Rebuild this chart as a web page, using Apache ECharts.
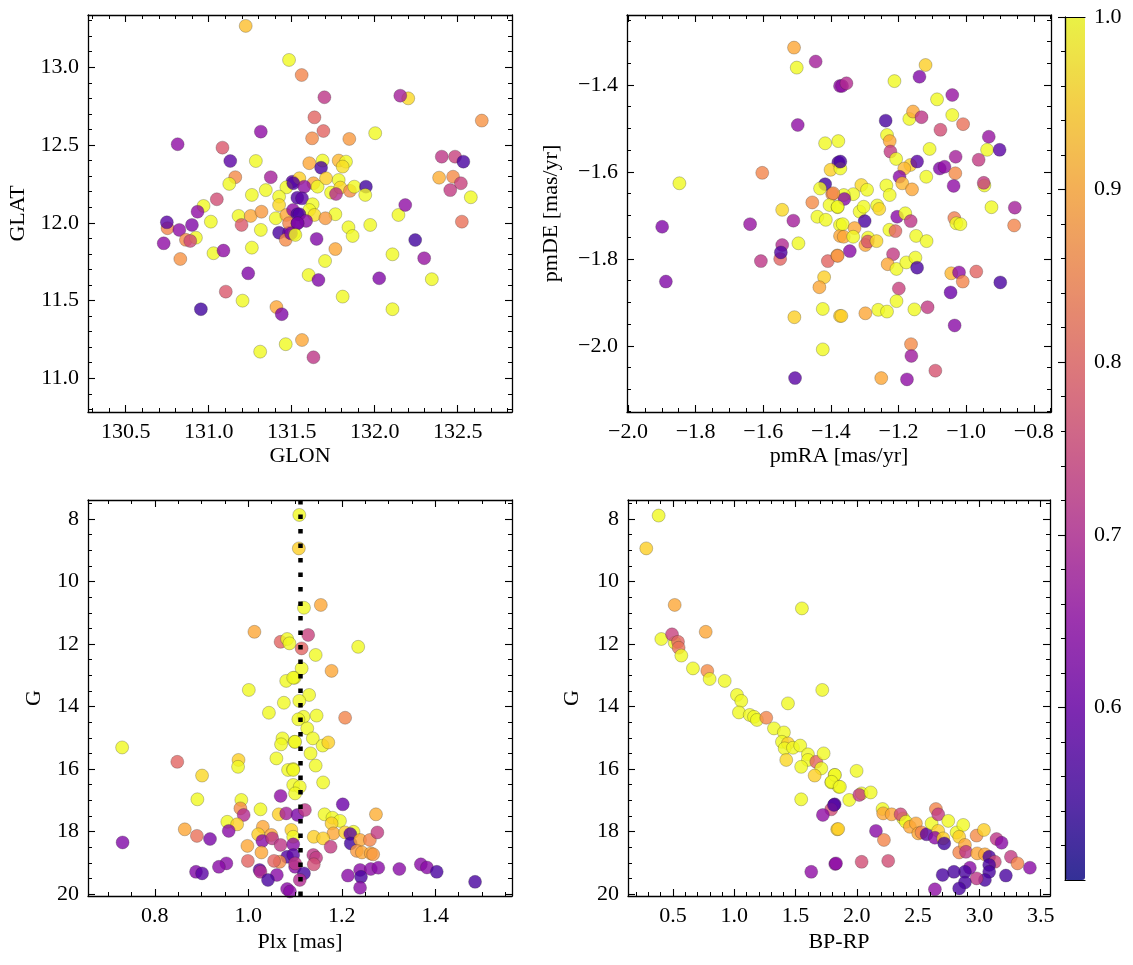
<!DOCTYPE html>
<html>
<head>
<meta charset="utf-8">
<script src="https://cdn.jsdelivr.net/npm/echarts@6/dist/echarts.min.js"></script>
<style>
html,body{margin:0;padding:0;background:#fff;}
#chart{width:1133px;height:965px;}
</style>
</head>
<body>
<div id="chart"></div>
<script>
// ---------- DATA (value triples: x, y, membership probability) ----------
const glonGlat = [
[131.223,13.266,0.93],[131.484,13.047,1.0],[131.56,12.95,0.85],[131.314,12.586,0.65],[130.813,12.505,0.65],
[131.083,12.483,0.78],[131.13,12.397,0.58],[131.284,12.397,1.0],[131.16,12.293,0.86],[131.124,12.25,1.0],
[131.374,12.293,0.68],[131.504,12.264,0.58],[131.468,12.228,1.0],[131.344,12.21,1.0],[131.26,12.179,1.0],
[131.049,12.151,0.76],[131.424,12.168,1.0],[130.969,12.108,1.0],[130.933,12.071,0.65],[131.013,12.007,1.0],
[131.18,12.044,1.0],[131.253,12.044,0.9],[131.318,12.071,0.88],[131.424,12.114,0.96],[131.404,12.029,1.0],
[131.198,11.986,0.78],[131.314,11.954,1.0],[130.752,11.965,0.85],[130.748,12.003,0.58],[130.823,11.954,0.65],
[130.899,11.986,0.63],[130.863,11.89,0.86],[130.923,11.904,1.0],[130.889,11.883,0.75],[130.729,11.868,0.65],
[130.829,11.767,0.87],[131.029,11.804,1.0],[131.089,11.821,0.65],[131.26,11.84,1.0],[131.424,11.936,0.56],
[131.484,11.936,0.6],[131.464,11.89,0.86],[131.514,11.932,1.0],[131.238,11.675,0.63],[131.103,11.557,0.78],
[131.204,11.499,1.0],[130.953,11.444,0.55],[131.408,11.458,0.9],[131.44,11.412,0.63],[131.464,11.219,1.0],
[131.31,11.171,1.0],[131.562,11.246,0.9],[131.468,12.05,0.9],[131.508,12.082,0.65],[131.534,12.055,0.57],
[131.484,11.997,0.85],[131.534,11.997,0.62],[131.534,12.161,0.57],
[131.697,12.807,0.72],[131.637,12.678,0.8],[131.691,12.59,0.8],[131.623,12.543,0.86],[131.847,12.539,0.88],
[132.003,12.576,1.0],[132.202,12.8,0.96],[132.154,12.817,0.68],[132.645,12.657,0.87],[131.606,12.383,0.9],
[131.686,12.4,1.0],[131.677,12.354,0.56],[131.783,12.4,0.92],[131.827,12.393,1.0],[131.807,12.361,0.97],
[131.546,12.286,0.95],[131.51,12.254,0.57],[131.631,12.254,0.9],[131.656,12.232,1.0],[131.707,12.286,0.95],
[131.783,12.275,1.0],[131.576,12.232,0.65],[131.737,12.194,1.0],[131.793,12.226,0.96],[131.767,12.185,0.7],
[131.851,12.205,0.86],[131.877,12.232,1.0],[131.947,12.232,0.55],[131.943,12.179,1.0],[131.562,12.157,0.58],
[131.626,12.119,1.0],[131.606,12.082,1.0],[131.546,12.055,0.57],[131.637,12.05,0.97],[131.763,12.055,1.0],
[131.703,12.029,0.88],[131.587,12.012,0.64],[131.536,11.997,0.62],[131.496,11.932,0.62],[131.522,11.922,1.0],
[131.842,11.971,1.0],[131.867,11.915,1.0],[131.973,11.986,1.0],[131.65,11.896,0.63],[131.763,11.831,0.9],
[131.701,11.754,1.0],[131.602,11.664,1.0],[131.661,11.632,0.63],[131.807,11.525,1.0],[132.027,11.643,0.63],
[132.107,11.797,1.0],[132.143,12.05,1.0],[132.184,12.114,0.65],[132.244,11.889,0.55],[132.298,11.772,0.66],
[132.344,11.637,1.0],[132.107,11.444,1.0],[132.404,12.425,0.72],[132.484,12.425,0.74],[132.534,12.393,0.56],
[132.388,12.29,0.91],[132.472,12.296,0.86],[132.519,12.254,0.74],[132.455,12.21,0.73],[132.579,12.164,1.0],
[132.525,12.007,0.82],[131.631,11.135,0.72]
];

const pmraPmde = [
[-1.509,-1.314,0.9],[-1.501,-1.36,1.0],[-1.445,-1.346,0.68],[-1.373,-1.402,0.65],[-1.498,-1.492,0.65],
[-1.417,-1.534,1.0],[-1.378,-1.529,1.0],[-1.378,-1.578,0.57],[-1.603,-1.602,0.85],[-1.848,-1.626,1.0],
[-1.401,-1.595,0.95],[-1.417,-1.628,0.55],[-1.432,-1.638,1.0],[-1.396,-1.651,0.86],[-1.455,-1.67,0.86],
[-1.404,-1.676,1.0],[-1.38,-1.681,1.0],[-1.544,-1.687,0.96],[-1.44,-1.703,1.0],[-1.415,-1.71,1.0],
[-1.511,-1.712,0.68],[-1.639,-1.72,0.66],[-1.899,-1.726,0.63],[-1.373,-1.722,1.0],[-1.373,-1.747,0.9],
[-1.496,-1.764,1.0],[-1.55,-1.8,0.8],[-1.544,-1.768,0.7],[-1.548,-1.785,0.57],[-1.607,-1.805,0.72],
[-1.409,-1.805,0.8],[-1.381,-1.792,0.9],[-1.888,-1.852,0.63],[-1.42,-1.842,0.95],[-1.434,-1.865,0.9],
[-1.424,-1.915,1.0],[-1.508,-1.934,0.95],[-1.373,-1.931,0.95],[-1.424,-2.008,1.0],[-1.506,-2.074,0.58],
[-1.12,-1.354,0.95],[-1.138,-1.381,0.63],[-1.212,-1.391,1.0],[-1.367,-1.402,0.65],[-1.354,-1.396,0.7],
[-1.086,-1.433,1.0],[-1.041,-1.423,0.66],[-1.041,-1.469,1.0],[-1.009,-1.49,0.82],[-1.168,-1.478,1.0],
[-1.157,-1.461,0.9],[-1.132,-1.474,0.72],[-1.238,-1.482,0.56],[-1.076,-1.503,0.76],[-0.933,-1.519,0.66],
[-0.938,-1.549,1.0],[-0.901,-1.549,0.58],[-1.234,-1.515,1.0],[-1.226,-1.529,0.9],[-1.224,-1.553,0.73],
[-1.207,-1.57,1.0],[-1.108,-1.547,1.0],[-1.031,-1.565,0.68],[-0.963,-1.572,0.73],[-1.372,-1.592,1.0],
[-1.372,-1.576,0.56],[-1.165,-1.584,0.95],[-1.145,-1.576,0.58],[-1.183,-1.592,0.92],[-1.078,-1.592,0.63],
[-1.064,-1.588,0.65],[-1.032,-1.603,0.86],[-1.197,-1.611,0.64],[-1.189,-1.626,0.92],[-1.118,-1.611,1.0],
[-1.037,-1.632,0.65],[-0.946,-1.631,1.0],[-0.948,-1.625,0.73],[-1.16,-1.64,0.9],[-1.31,-1.63,0.96],
[-1.293,-1.641,1.0],[-1.236,-1.631,1.0],[-1.226,-1.653,1.0],[-1.334,-1.651,1.0],[-1.362,-1.653,1.0],
[-1.36,-1.662,0.64],[-1.393,-1.649,0.86],[-1.38,-1.68,1.0],[-1.315,-1.691,1.0],[-1.303,-1.68,1.0],
[-1.263,-1.677,1.0],[-1.257,-1.685,0.96],[-1.3,-1.713,0.56],[-1.204,-1.703,0.64],[-1.18,-1.695,1.0],
[-1.164,-1.713,0.72],[-1.035,-1.706,0.84],[-1.029,-1.718,1.0],[-1.017,-1.72,1.0],[-0.925,-1.681,1.0],
[-0.856,-1.682,0.68],[-0.858,-1.723,0.85],[-1.365,-1.72,1.0],[-1.33,-1.729,0.9],[-1.362,-1.749,0.9],
[-1.334,-1.749,1.0],[-1.29,-1.751,1.0],[-1.298,-1.768,0.9],[-1.291,-1.76,0.77],[-1.265,-1.759,0.96],
[-1.227,-1.733,1.0],[-1.209,-1.736,0.8],[-1.148,-1.747,1.0],[-1.117,-1.759,1.0],[-1.344,-1.782,0.64],
[-1.38,-1.793,0.87],[-1.216,-1.789,0.73],[-1.232,-1.812,0.9],[-1.206,-1.823,1.0],[-1.177,-1.808,1.0],
[-1.15,-1.797,1.0],[-1.145,-1.82,0.56],[-1.044,-1.833,0.92],[-1.021,-1.831,0.65],[-1.01,-1.852,0.85],
[-0.97,-1.829,0.8],[-0.899,-1.854,0.56],[-1.046,-1.877,0.6],[-1.199,-1.868,0.74],[-1.206,-1.897,1.0],
[-1.26,-1.917,1.0],[-1.234,-1.921,1.0],[-1.153,-1.916,1.0],[-1.114,-1.911,0.73],[-1.298,-1.925,0.9],
[-1.369,-1.931,0.95],[-1.034,-1.953,0.64],[-1.163,-1.996,0.86],[-1.162,-2.023,0.67],[-1.091,-2.057,0.77],
[-1.251,-2.074,0.9],[-1.175,-2.077,0.65]
];

const plxG = [
[1.109,7.87,1.0],[1.108,8.94,0.95],[1.013,11.61,0.9],[1.069,11.93,0.8],[1.083,11.84,1.0],
[1.088,11.98,1.0],[1.001,13.47,1.0],[1.081,13.18,1.0],[1.099,13.08,1.0],[1.076,13.88,1.0],
[1.044,14.2,1.0],[0.73,15.31,1.0],[0.848,15.77,0.8],[1.073,15.02,1.0],[1.07,15.21,1.0],
[1.06,15.66,1.0],[1.099,15.13,1.0],[0.979,15.71,0.95],[0.978,15.93,1.0],[0.901,16.21,0.96],
[1.085,16.03,1.0],[1.096,16.0,1.0],[1.096,16.51,1.0],[0.891,16.97,1.0],[0.985,16.99,1.0],
[1.069,16.86,0.65],[1.026,17.29,1.0],[0.983,17.26,0.86],[0.99,17.47,0.7],[1.065,17.45,0.95],
[1.081,17.42,0.68],[0.955,17.69,1.0],[0.976,17.77,0.95],[0.958,17.98,0.64],[0.864,17.93,0.9],
[0.89,18.14,0.82],[0.918,18.24,0.62],[0.731,18.35,0.63],[1.031,17.85,0.9],[1.021,18.09,0.95],
[1.049,18.11,0.9],[1.03,18.3,0.64],[1.051,18.22,0.72],[1.069,18.43,0.72],[1.092,17.95,0.95],
[1.096,18.17,1.0],[0.998,18.46,0.9],[1.028,18.67,0.9],[1.083,18.81,0.57],[1.067,18.97,0.86],
[1.055,18.94,0.8],[0.999,18.94,0.8],[0.953,19.02,0.64],[0.937,19.13,0.64],[0.888,19.29,0.63],
[0.901,19.34,0.58],[1.024,19.23,0.58],[1.026,19.29,0.7],[1.061,19.39,0.64],[1.042,19.55,0.56],
[1.083,19.84,0.64],[1.1,19.13,0.64],[1.096,18.41,0.64],[1.105,17.47,0.62],
[1.119,10.84,1.0],[1.155,10.75,0.9],[1.128,11.71,0.74],[1.114,12.14,0.8],[1.144,12.35,1.0],
[1.235,12.09,1.0],[1.114,12.78,1.0],[1.178,12.86,0.9],[1.096,13.08,1.0],[1.13,13.63,1.0],
[1.109,13.82,1.0],[1.118,14.33,1.0],[1.146,14.29,1.0],[1.207,14.36,0.85],[1.107,14.41,1.0],
[1.126,14.7,1.0],[1.138,15.02,1.0],[1.159,15.25,1.0],[1.171,15.15,0.95],[1.133,15.5,1.0],
[1.1,15.13,1.0],[1.144,15.89,1.0],[1.096,16.03,1.0],[1.16,16.43,1.0],[1.11,16.57,1.0],
[1.1,16.78,1.0],[1.202,17.13,0.6],[1.121,17.31,0.72],[1.163,17.45,1.0],[1.18,17.56,1.0],
[1.196,17.66,1.0],[1.273,17.45,0.91],[1.178,17.74,0.95],[1.182,18.06,0.9],[1.207,18.03,0.95],
[1.225,18.01,1.0],[1.218,18.08,0.58],[1.14,18.17,0.95],[1.16,18.22,0.95],[1.176,18.49,0.73],
[1.219,18.38,0.55],[1.239,18.27,0.9],[1.26,18.27,0.85],[1.276,18.03,0.73],[1.232,18.62,0.88],
[1.243,18.67,0.9],[1.262,18.7,0.9],[1.267,18.73,0.88],[1.139,18.75,0.72],[1.145,18.84,0.73],
[1.14,19.05,0.76],[1.096,18.75,0.58],[1.1,19.02,0.72],[1.119,19.34,0.56],[1.11,19.55,0.7],
[1.213,19.41,0.64],[1.239,19.23,0.64],[1.241,19.45,0.56],[1.239,19.8,0.64],[1.262,19.2,0.64],
[1.278,19.16,0.64],[1.323,19.2,0.64],[1.369,19.05,0.64],[1.382,19.15,0.64],[1.403,19.29,0.56],
[1.485,19.61,0.56],[1.089,19.92,0.64]
];

const bprpG = [
[0.383,7.89,1.0],[0.282,8.94,0.95],[0.514,10.75,0.9],[1.552,10.86,1.0],[0.405,11.84,1.0],
[0.514,11.96,1.0],[0.492,11.69,0.74],[0.541,11.93,0.8],[0.546,12.12,0.82],[0.767,11.61,0.9],
[0.568,12.37,1.0],[0.663,12.78,1.0],[0.78,12.86,0.86],[0.799,13.12,1.0],[0.922,13.18,1.0],
[1.022,13.63,1.0],[1.057,13.82,1.0],[1.038,14.19,1.0],[1.126,14.27,1.0],[1.161,14.33,1.0],
[1.185,14.43,1.0],[1.261,14.36,0.85],[1.324,14.7,1.0],[1.438,13.9,1.0],[1.718,13.47,1.0],
[1.405,14.83,1.0],[1.389,15.13,1.0],[1.438,15.18,0.95],[1.411,15.34,1.0],[1.479,15.32,1.0],
[1.538,15.25,1.0],[1.424,15.71,0.96],[1.601,15.53,1.0],[1.601,15.71,1.0],[1.546,15.93,1.0],
[1.669,15.77,0.8],[1.729,15.5,1.0],[1.71,15.98,1.0],[1.656,16.21,0.95],[1.819,16.19,1.0],
[1.791,16.43,1.0],[1.852,16.57,1.0],[1.546,16.97,1.0],[1.819,17.13,0.57],[1.791,17.29,0.76],
[1.723,17.47,0.65],[1.84,17.93,0.95],[1.824,19.04,0.65],[1.628,19.29,0.65],
[1.821,16.19,1.0],[1.794,16.41,1.0],[1.862,16.57,1.0],[1.998,16.06,1.0],[1.938,16.99,1.0],
[2.039,16.78,1.0],[2.02,16.83,0.73],[2.113,16.75,1.0],[1.813,17.15,0.57],[1.848,17.92,0.95],
[2.156,17.98,0.64],[2.221,18.27,0.85],[1.83,19.02,0.65],[2.039,18.97,0.76],[2.256,18.94,0.76],
[2.21,17.28,1.0],[2.215,17.42,0.9],[2.284,17.45,0.9],[2.378,17.58,1.0],[2.357,17.45,0.75],
[2.4,17.69,1.0],[2.433,17.85,0.9],[2.482,17.74,0.9],[2.501,18.06,0.9],[2.528,18.03,0.85],
[2.569,18.09,0.58],[2.61,17.74,1.0],[2.645,17.28,0.85],[2.664,17.45,0.73],[2.746,17.66,1.0],
[2.664,17.98,0.95],[2.637,18.2,0.64],[2.705,18.22,0.95],[2.713,18.38,0.55],[2.814,18.03,1.0],
[2.868,17.79,1.0],[2.835,18.17,0.95],[2.835,18.67,0.85],[2.882,18.43,0.9],[2.89,18.65,0.72],
[2.977,18.13,0.86],[3.037,17.95,0.95],[2.982,18.7,0.9],[3.045,18.73,0.9],[3.08,18.81,0.56],
[3.14,18.24,0.72],[3.181,18.36,0.64],[3.257,18.81,0.73],[3.311,19.02,0.85],[3.412,19.16,0.64],
[3.126,18.97,0.75],[3.08,19.07,0.56],[3.08,19.29,0.56],[3.216,19.41,0.56],[3.045,19.55,0.56],
[2.977,19.5,0.72],[2.922,19.16,0.64],[2.882,19.29,0.56],[2.882,19.63,0.56],[2.835,19.82,0.56],
[2.792,19.29,0.56],[2.7,19.39,0.56],[2.637,19.85,0.65]
];

const plxRef = 1.109;   // reference parallax (dotted line)

// tick labels
const glonTicks = [130.5, 131.0, 131.5, 132.0, 132.5];
const glatTicks = [11.0, 11.5, 12.0, 12.5, 13.0];
const pmraTicks = [-2.0, -1.8, -1.6, -1.4, -1.2, -1.0, -0.8];
const pmdeTicks = [-2.0, -1.8, -1.6, -1.4];
const plxTicks = [0.8, 1.0, 1.2, 1.4];
const gTicks = [8, 10, 12, 14, 16, 18, 20];
const bprpTicks = [0.5, 1.0, 1.5, 2.0, 2.5, 3.0, 3.5];
const probTicks = [0.6, 0.7, 0.8, 0.9, 1.0];
const probRange = [0.5, 1.0];

// ---------- STYLE / LAYOUT ----------
const FONT = {fontFamily: 'Liberation Serif', fontSize: 22, color: '#000'};
const plasma = ['#0d0887','#41049d','#6a00a8','#8f0da4','#b12a90','#cc4778','#e16462','#f2844b','#fca636','#fcce25','#f0f921'];
const plasmaA = plasma.map(h => {
  const r = parseInt(h.slice(1,3),16), g = parseInt(h.slice(3,5),16), b = parseInt(h.slice(5,7),16);
  return 'rgba(' + r + ',' + g + ',' + b + ',0.8)';
});
const fmt1 = v => (v < 0 ? '\u2212' : '') + Math.abs(v).toFixed(1);
const fmt0 = v => String(Math.round(v));

function minorVals(min, max, step, majors) {
  const out = [];
  for (let k = Math.ceil(min / step - 1e-9); k * step <= max + 1e-9; k++) {
    const v = +(k * step).toFixed(6);
    if (!majors.some(m => Math.abs(m - v) < step / 10)) out.push(v);
  }
  return out;
}

const xAxes = [], yAxes = [];
function addAxes(list, dim, grid, min, max, majors, minorStep, fmt, name, nameGap, inverse) {
  const mainPos = dim === 'x' ? 'bottom' : 'left';
  const mirPos = dim === 'x' ? 'top' : 'right';
  const minors = minorVals(min, max, minorStep, majors);
  const base = {type: 'value', gridIndex: grid, min: min, max: max, inverse: !!inverse,
    splitLine: {show: false}, z: 5,
    axisLine: {show: true, onZero: false, lineStyle: {color: '#000', width: 1.3}}};
  const tickMaj = {show: true, inside: true, length: 7, customValues: majors, lineStyle: {color: '#000', width: 1.1}};
  const tickMin = {show: true, inside: true, length: 4, customValues: minors, lineStyle: {color: '#000', width: 1}};
  const idx = list.length;
  list.push(Object.assign({}, base, {position: mainPos, name: name, nameLocation: 'middle', nameGap: nameGap,
    nameTextStyle: Object.assign({}, FONT),
    axisTick: tickMaj,
    axisLabel: Object.assign({show: true, customValues: majors, formatter: fmt, margin: 9,
      showMinLabel: true, showMaxLabel: true, hideOverlap: false}, FONT)}));
  list.push(Object.assign({}, base, {position: mainPos, axisLine: {show: false}, axisTick: tickMin, axisLabel: {show: false}}));
  list.push(Object.assign({}, base, {position: mirPos, axisTick: tickMaj, axisLabel: {show: false}}));
  list.push(Object.assign({}, base, {position: mirPos, axisLine: {show: false}, axisTick: tickMin, axisLabel: {show: false}}));
  return idx;
}

const grids = [
  {left: 88, top: 15, width: 424, height: 397},
  {left: 627, top: 15, width: 424, height: 397},
  {left: 88, top: 500, width: 424, height: 396},
  {left: 628, top: 500, width: 422, height: 396},
  {left: 1065, top: 17, width: 20, height: 863}
].map(g => Object.assign({containLabel: false, outerBoundsMode: 'none', show: false}, g));

const x0 = addAxes(xAxes, 'x', 0, 130.273, 132.827, glonTicks, 0.1, fmt1, 'GLON', 33);
const y0 = addAxes(yAxes, 'y', 0, 10.783, 13.336, glatTicks, 0.1, fmt1, 'GLAT', 59);
const x1 = addAxes(xAxes, 'x', 1, -2.003, -0.749, pmraTicks, 0.05, fmt1, 'pmRA [mas/yr]', 33);
const y1 = addAxes(yAxes, 'y', 1, -2.152, -1.239, pmdeTicks, 0.05, fmt1, 'pmDE [mas/yr]', 65);
const x2 = addAxes(xAxes, 'x', 2, 0.657, 1.564, plxTicks, 0.05, fmt1, 'Plx [mas]', 35);
const y2 = addAxes(yAxes, 'y', 2, 7.392, 20.064, gTicks, 0.5, fmt0, 'G', 43, true);
const x3 = addAxes(xAxes, 'x', 3, 0.133, 3.576, bprpTicks, 0.1, fmt1, 'BP-RP', 35);
const y3 = addAxes(yAxes, 'y', 3, 7.392, 20.064, gTicks, 0.5, fmt0, 'G', 45, true);

// colorbar frame + ticks (grid 4)
xAxes.push({type: 'value', gridIndex: 4, min: 0, max: 1, position: 'bottom', z: 10,
  axisLine: {show: true, lineStyle: {color: '#000', width: 1.2}}, axisTick: {show: false}, axisLabel: {show: false}, splitLine: {show: false}});
xAxes.push({type: 'value', gridIndex: 4, min: 0, max: 1, position: 'top', z: 10,
  axisLine: {show: true, lineStyle: {color: '#000', width: 1.2}}, axisTick: {show: false}, axisLabel: {show: false}, splitLine: {show: false}});
yAxes.push({type: 'value', gridIndex: 4, min: probRange[0], max: probRange[1], position: 'right', z: 10,
  axisLine: {show: true, lineStyle: {color: '#000', width: 1.2}}, splitLine: {show: false},
  axisTick: {show: true, inside: true, length: 7, customValues: probTicks, lineStyle: {color: '#000', width: 1.1}},
  axisLabel: Object.assign({show: true, customValues: probTicks, formatter: fmt1, margin: 9}, FONT)});
yAxes.push({type: 'value', gridIndex: 4, min: probRange[0], max: probRange[1], position: 'right', z: 10,
  axisLine: {show: false}, splitLine: {show: false},
  axisTick: {show: true, inside: true, length: 4, customValues: minorVals(probRange[0], probRange[1], 0.02, probTicks.concat([0.5])), lineStyle: {color: '#000', width: 1}},
  axisLabel: {show: false}});
yAxes.push({type: 'value', gridIndex: 4, min: probRange[0], max: probRange[1], position: 'left', z: 10,
  axisLine: {show: true, lineStyle: {color: '#000', width: 1.2}}, splitLine: {show: false},
  axisTick: {show: false}, axisLabel: {show: false}});

function scatter(data, xi, yi, extra) {
  return Object.assign({type: 'scatter', xAxisIndex: xi, yAxisIndex: yi, data: data, symbolSize: 13,
    silent: true, animation: false,
    itemStyle: {opacity: 0.8, borderColor: 'rgba(40,40,40,0.55)', borderWidth: 0.6}}, extra || {});
}

const option = {
  backgroundColor: '#fff',
  animation: false,
  grid: grids,
  xAxis: xAxes,
  yAxis: yAxes,
  visualMap: [{
    type: 'continuous', min: probRange[0], max: probRange[1], dimension: 2,
    seriesIndex: [0, 1, 2, 3], calculable: false, hoverLink: false, realtime: false,
    left: 1065, top: 17, itemWidth: 20, itemHeight: 863, padding: 0,
    text: null, showLabel: false, z: 2,
    inRange: {color: plasma},
    controller: {inRange: {color: plasmaA}}
  }],
  series: [
    scatter(glonGlat, x0, y0),
    scatter(pmraPmde, x1, y1),
    scatter(plxG, x2, y2, {
      markLine: {silent: true, symbol: ['none', 'none'], animation: false, z: 10,
        label: {show: false},
        lineStyle: {color: '#000', width: 4.5, type: [4.5, 10], cap: 'butt', opacity: 1},
        data: [{xAxis: plxRef}]}
    }),
    scatter(bprpG, x3, y3)
  ]
};

const chart = echarts.init(document.getElementById('chart'), null, {renderer: 'canvas'});
chart.setOption(option);
</script>
</body>
</html>
